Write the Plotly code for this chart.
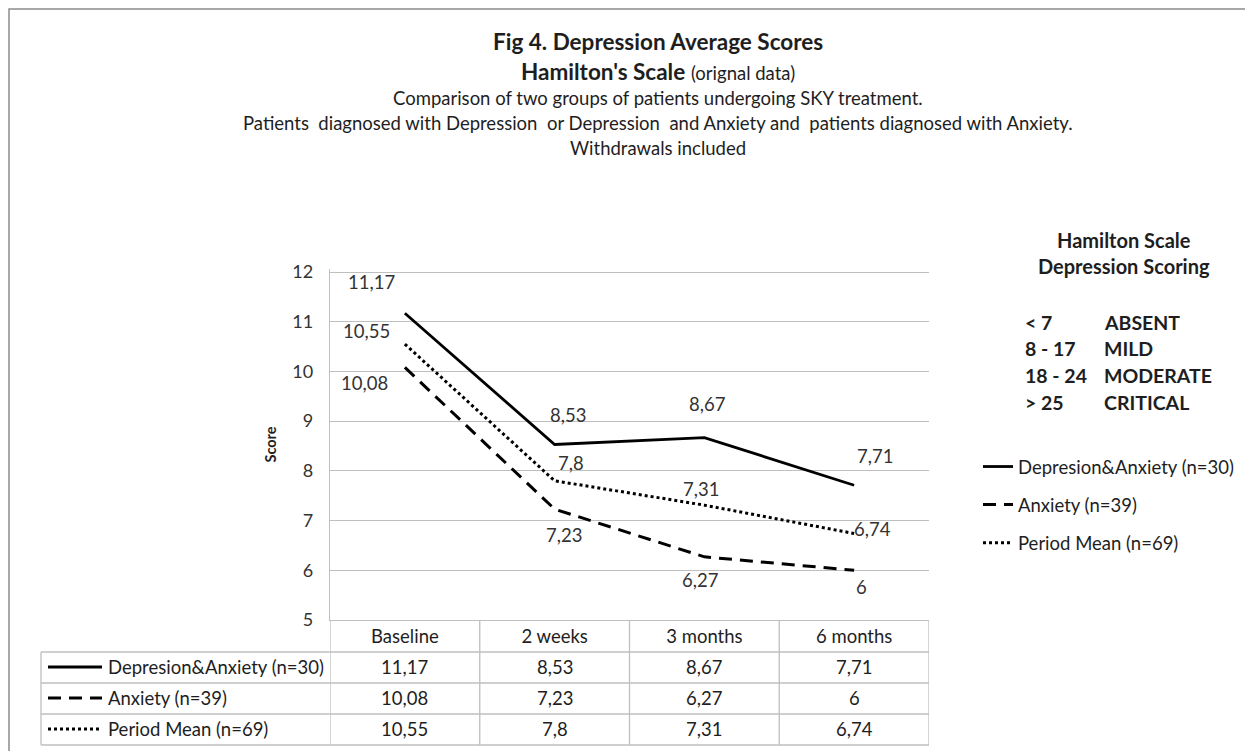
import plotly.graph_objects as go

# ---------------- data ----------------
categories = ["Baseline", "2 weeks", "3 months", "6 months"]
series_names = ["Depresion&Anxiety (n=30)", "Anxiety (n=39)", "Period Mean (n=69)"]
dep_anx = [11.17, 8.53, 8.67, 7.71]
anxiety = [10.08, 7.23, 6.27, 6]
period_mean = [10.55, 7.8, 7.31, 6.74]
y_ticks = [5, 6, 7, 8, 9, 10, 11, 12]
scale_ranges = ["< 7", "8 - 17", "18 - 24", "> 25"]
scale_levels = ["ABSENT", "MILD", "MODERATE", "CRITICAL"]

title_lines = [
    "Fig 4. Depression Average Scores",
    "Hamilton's Scale",
    "(orignal data)",
    "Comparison of two groups of patients undergoing SKY treatment.",
    "Patients  diagnosed with Depression  or Depression  and Anxiety and  patients diagnosed with Anxiety.",
    "Withdrawals included",
]
box_title = ["Hamilton Scale", "Depression Scoring"]
y_title = "Score"

# ---------------- styles ----------------
FONT = "Lato"
WIN_W, WIN_H = 1253, 751
OFF = 8                                   # page body margin
W, H = WIN_W - OFF, WIN_H - OFF
L, R, T, B = 330, 929, 272, 620           # plot area in reference pixels (12 -> T, 5 -> B)
Y0, Y1 = 5, 12
EXTRA = 3                                 # px of headroom above the 12 gridline
UNIT = (B - T) / (Y1 - Y0)
T_PLOT = T - EXTRA
Y_TOP = Y1 + EXTRA / UNIT
GRID = "#bfbfbf"
TXT = "#1e1e1e"
LBL = "#333333"
FS = 18.5
dashes = ["solid", "13px,8px", "3px,3px"]
widths = [2.8, 3.0, 3.0]
# label offsets (pixels) per series per point
label_dx = [[-33, 13, 3, 21], [-40, 9, -4, 7], [-38, 16, -3, 18]]
label_dy = [[31, 30, 34, 29], [-16, -26, -23, -17], [13, 18, 16, 5]]


def px(x):
    return (x - L) / (R - L)


def py(y):
    return (B - y) / (B - T_PLOT)


def fmt(v):
    return f"{v:g}".replace(".", ",")


series = [dep_anx, anxiety, period_mean]

fig = go.Figure()
for i, (name, vals) in enumerate(zip(series_names, series)):
    fig.add_trace(go.Scatter(
        x=categories, y=vals, name=name, mode="lines",
        line=dict(color="black", width=widths[i], dash=dashes[i]),
        legendgroup=f"g{i}", hoverinfo="skip",
    ))

ann = []
# data labels
for i, vals in enumerate(series):
    for j, (c, v) in enumerate(zip(categories, vals)):
        ann.append(dict(x=c, y=v, xref="x", yref="y", text=fmt(v), showarrow=False,
                        xshift=label_dx[i][j], yshift=label_dy[i][j],
                        font=dict(family=FONT, size=FS, color=LBL)))

# title block
TCX = 658
title_y = [42, 71, 98, 123, 148]
ann.append(dict(x=px(TCX), y=py(title_y[0]), xref="paper", yref="paper", xanchor="center", yanchor="middle",
                text=f"<b>{title_lines[0]}</b>", showarrow=False, font=dict(family=FONT, size=22.5, color=TXT)))
ann.append(dict(x=px(TCX), y=py(title_y[1]), xref="paper", yref="paper", xanchor="center", yanchor="middle",
                text=f"<b>{title_lines[1]}</b> <span style='font-size:18.5px'>{title_lines[2]}</span>",
                showarrow=False, font=dict(family=FONT, size=22.5, color=TXT)))
for k, line in enumerate(title_lines[3:]):
    ann.append(dict(x=px(TCX), y=py(title_y[2 + k]), xref="paper", yref="paper", xanchor="center",
                    yanchor="middle", text=line, showarrow=False,
                    font=dict(family=FONT, size=18.5, color=TXT)))

# scoring box
ann.append(dict(x=px(1124), y=py(253), xref="paper", yref="paper", xanchor="center", yanchor="middle",
                text=f"<b>{box_title[0]}<br>{box_title[1]}</b>", showarrow=False,
                font=dict(family=FONT, size=20, color=TXT)))
box_y = [322, 348, 375, 402]
for k, (rng, lev) in enumerate(zip(scale_ranges, scale_levels)):
    ann.append(dict(x=px(1023), y=py(box_y[k]), xref="paper", yref="paper", xanchor="left", yanchor="middle",
                    text=f"<b>{rng}</b>", showarrow=False, font=dict(family=FONT, size=19.5, color=TXT)))
    ann.append(dict(x=px(1102), y=py(box_y[k]), xref="paper", yref="paper", xanchor="left", yanchor="middle",
                    text=f"<b>{lev}</b>", showarrow=False, font=dict(family=FONT, size=19.5, color=TXT)))

# data table below the plot
row_y = [667, 698, 729]
row_edges = [652, 683, 714, 745]
for r, (name, vals) in enumerate(zip(series_names, series)):
    ann.append(dict(x=px(106), y=py(row_y[r]), xref="paper", yref="paper", xanchor="left", yanchor="middle",
                    text=name, showarrow=False, font=dict(family=FONT, size=FS, color=TXT)))
    for c, v in zip(categories, vals):
        ann.append(dict(x=c, y=py(row_y[r]), xref="x", yref="paper", xanchor="center", yanchor="middle",
                        text=fmt(v), showarrow=False, font=dict(family=FONT, size=FS, color=TXT)))

shapes = []
# outer frame
shapes.append(dict(type="rect", xref="paper", yref="paper", x0=px(9), x1=px(1270), y0=py(9), y1=py(770),
                   line=dict(color="#8c8c8c", width=1.5), layer="below"))
# table horizontal lines
for yy in row_edges:
    shapes.append(dict(type="line", xref="paper", yref="paper", x0=px(41), x1=1, y0=py(yy), y1=py(yy),
                       line=dict(color=GRID, width=1.3)))
# table vertical lines
shapes.append(dict(type="line", xref="paper", yref="paper", x0=px(41), x1=px(41), y0=py(652), y1=py(745),
                   line=dict(color=GRID, width=1.3)))
for k in range(len(categories) + 1):
    shapes.append(dict(type="line", xref="x", yref="paper", x0=k - 0.5, x1=k - 0.5, y0=0, y1=py(745),
                       line=dict(color=GRID, width=1.3)))
# legend keys in table rows
for r in range(len(series)):
    shapes.append(dict(type="line", xref="paper", yref="paper", x0=px(48), x1=px(102), y0=py(row_y[r]),
                       y1=py(row_y[r]), line=dict(color="black", width=widths[r], dash=dashes[r])))

fig.update_layout(
    width=W, height=H,
    margin=dict(l=L - OFF, r=WIN_W - R, t=T_PLOT - OFF, b=WIN_H - B, pad=0),
    paper_bgcolor="white", plot_bgcolor="white",
    font=dict(family=FONT, size=FS, color=TXT),
    showlegend=True,
    legend=dict(x=px(978), y=py(448), xanchor="left", yanchor="top", traceorder="grouped",
                tracegroupgap=11, font=dict(family=FONT, size=FS, color=TXT), bgcolor="rgba(0,0,0,0)"),
    annotations=ann, shapes=shapes,
    xaxis=dict(type="category", categoryorder="array", categoryarray=categories, range=[-0.5, 3.5],
               showgrid=False, showline=True, linecolor=GRID, linewidth=1.3, ticks="",
               tickfont=dict(family=FONT, size=FS, color=TXT), zeroline=False, fixedrange=True),
    yaxis=dict(range=[Y0, Y_TOP], tickvals=y_ticks, showgrid=True, gridcolor=GRID, gridwidth=1.3,
               showline=True, linecolor=GRID, linewidth=1.3, ticks="", zeroline=False,
               tickfont=dict(family=FONT, size=18, color=LBL), ticklabelstandoff=12,
               title=dict(text=f"<b>{y_title}</b>", font=dict(family=FONT, size=14.5, color=TXT), standoff=12),
               fixedrange=True),
)

fig.write_html("out.html")
